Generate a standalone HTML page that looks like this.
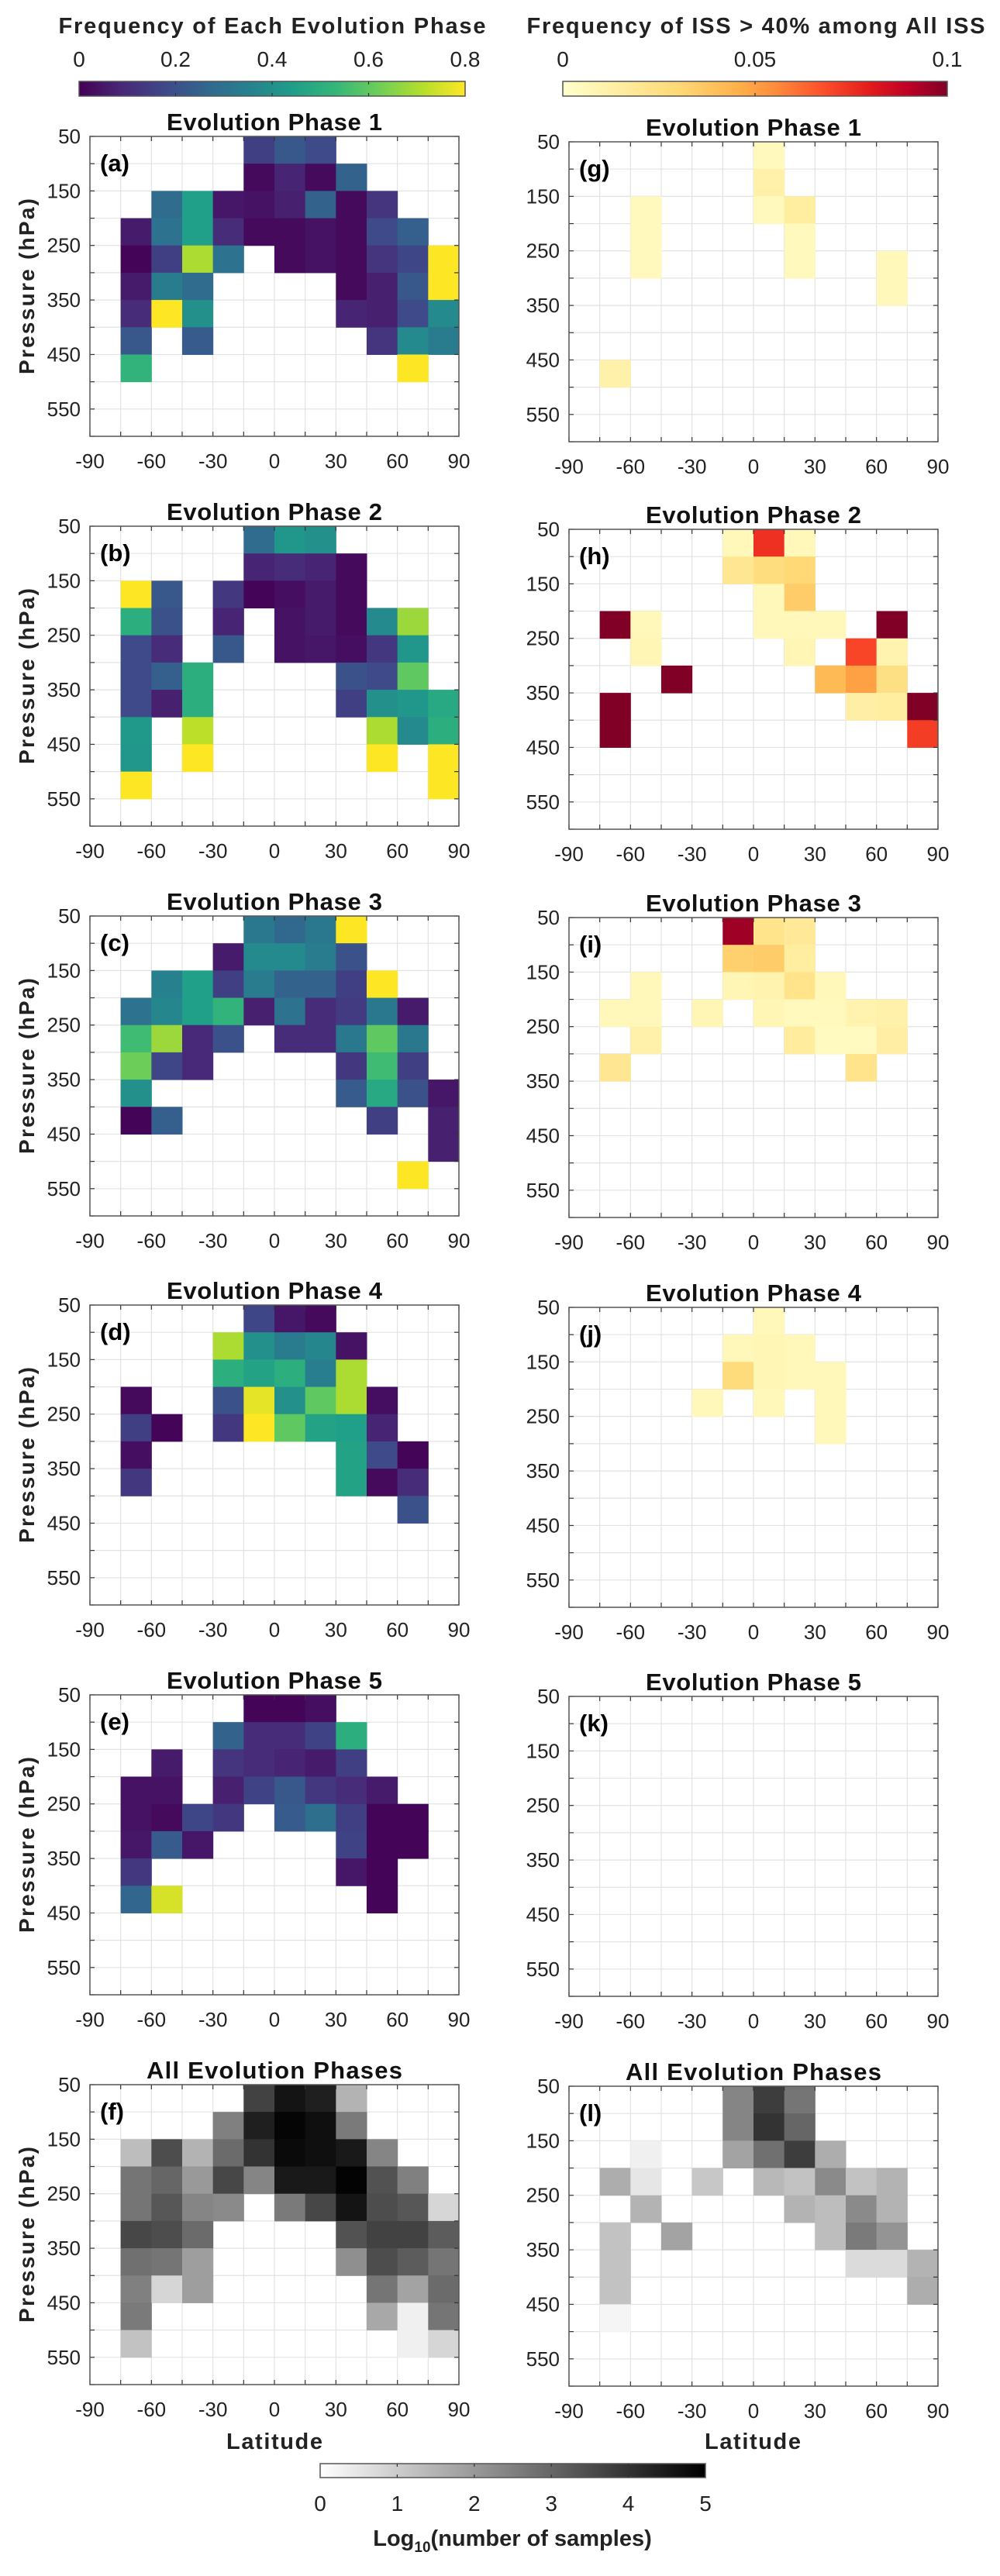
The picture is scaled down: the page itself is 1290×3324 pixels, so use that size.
<!DOCTYPE html>
<html><head><meta charset="utf-8"><style>
html,body{margin:0;padding:0;background:#fff;}
svg text{font-family:"Liberation Sans",Arial,sans-serif;fill:#222;}
</style></head>
<body>
<svg id="fig" xmlns="http://www.w3.org/2000/svg" width="1290" height="3319" viewBox="0 0 1290 3319">
<defs>
<linearGradient id="gViridis" x1="0" x2="1" y1="0" y2="0"></linearGradient>
<linearGradient id="gYlOrRd" x1="0" x2="1" y1="0" y2="0"></linearGradient>
<linearGradient id="gGray" x1="0" x2="1" y1="0" y2="0"><stop offset="0" stop-color="#fff"/><stop offset="1" stop-color="#000"/></linearGradient>
</defs>
</svg>
<script>
const _ = null;
const latTicks = [-90,-60,-30,0,30,60,90];
const presTicks = [50,150,250,350,450,550];
const freqTicks = [0,0.2,0.4,0.6,0.8];
const issTicks = [0,0.05,0.1];
const logTicks = [0,1,2,3,4,5];

const phase1Freq = [
[_,_,_,_,_,.15,.22,.18,_,_,_,_],
[_,_,_,_,_,.02,.08,.02,.25,_,_,_],
[_,_,.28,.45,.05,.04,.07,.25,.02,.12,_,_],
[_,.06,.3,.45,.1,.02,.02,.04,.02,.18,.24,_],
[_,.01,.15,.7,.3,_,.02,.04,.02,.12,.17,.8],
[_,.06,.33,.28,_,_,_,_,.02,.07,.22,.8],
[_,.1,.8,.4,_,_,_,_,.08,.07,.18,.38],
[_,.22,_,.23,_,_,_,_,_,.12,.38,.33],
[_,.52,_,_,_,_,_,_,_,_,.8,_],
[_,_,_,_,_,_,_,_,_,_,_,_],
[_,_,_,_,_,_,_,_,_,_,_,_]];
const phase2Freq = [
[_,_,_,_,_,.28,.42,.4,_,_,_,_],
[_,_,_,_,_,.08,.1,.08,.02,_,_,_],
[_,.8,.22,_,.13,.01,.03,.06,.02,_,_,_],
[_,.5,.2,_,.08,_,.04,.06,.02,.38,.68,_],
[_,.18,.1,_,.22,_,.04,.05,.03,.13,.42,_],
[_,.18,.24,.5,_,_,_,_,.2,.18,.6,_],
[_,.18,.07,.5,_,_,_,_,.15,.4,.42,.48],
[_,.43,_,.72,_,_,_,_,_,.7,.38,.5],
[_,.42,_,.8,_,_,_,_,_,.8,_,.8],
[_,.8,_,_,_,_,_,_,_,_,_,.8],
[_,_,_,_,_,_,_,_,_,_,_,_]];
const phase3Freq = [
[_,_,_,_,_,.32,.27,.32,.8,_,_,_],
[_,_,_,_,.06,.38,.38,.33,.2,_,_,_],
[_,_,.35,.45,.15,.33,.25,.25,.15,.8,_,_],
[_,.3,.37,.45,.52,.07,.3,.1,.14,.32,.06,_],
[_,.55,.68,.09,.2,_,.1,.1,.32,.6,.32,_],
[_,.62,.17,.09,_,_,_,_,.13,.55,.15,_],
[_,.4,_,_,_,_,_,_,.23,.48,.2,.05],
[_,.01,.24,_,_,_,_,_,_,.15,_,.07],
[_,_,_,_,_,_,_,_,_,_,_,.07],
[_,_,_,_,_,_,_,_,_,_,.8,_],
[_,_,_,_,_,_,_,_,_,_,_,_]];
const phase4Freq = [
[_,_,_,_,_,.17,.05,.02,_,_,_,_],
[_,_,_,_,.7,.4,.33,.37,.04,_,_,_],
[_,_,_,_,.5,.46,.5,.34,.7,_,_,_],
[_,.02,_,_,.2,.77,.4,.6,.7,.03,_,_],
[_,.15,.01,_,.13,.8,.6,.46,.45,.08,_,_],
[_,.03,_,_,_,_,_,_,.46,.18,.01,_],
[_,.13,_,_,_,_,_,_,.46,.02,.1,_],
[_,_,_,_,_,_,_,_,_,_,.2,_],
[_,_,_,_,_,_,_,_,_,_,_,_],
[_,_,_,_,_,_,_,_,_,_,_,_],
[_,_,_,_,_,_,_,_,_,_,_,_]];
const phase5Freq = [
[_,_,_,_,_,.01,.01,.03,_,_,_,_],
[_,_,_,_,.25,.1,.1,.16,.5,_,_,_],
[_,_,.06,_,.12,.1,.08,.06,.15,_,_,_],
[_,.04,.04,_,.07,.16,.22,.13,.1,.06,_,_],
[_,.04,.02,.17,.13,_,.23,.29,.15,.01,.01,_],
[_,.05,.23,.05,_,_,_,_,.16,.01,.01,_],
[_,.13,_,_,_,_,_,_,.05,.01,_,_],
[_,.26,.75,_,_,_,_,_,_,.01,_,_],
[_,_,_,_,_,_,_,_,_,_,_,_],
[_,_,_,_,_,_,_,_,_,_,_,_],
[_,_,_,_,_,_,_,_,_,_,_,_]];
const allLogSamples = [
[_,_,_,_,_,3.7,4.6,4.4,1.5,_,_,_],
[_,_,_,_,2.5,4.4,4.9,4.7,2.6,_,_,_],
[_,1.3,3.5,1.5,2.9,4.0,4.8,4.7,4.5,2.4,_,_],
[_,2.7,3.0,2.0,3.6,2.4,4.5,4.5,4.95,3.4,2.5,_],
[_,2.7,3.3,2.4,2.3,_,2.6,3.6,4.6,3.5,3.3,0.8],
[_,3.6,3.5,2.9,_,_,_,_,3.4,3.7,3.7,3.2],
[_,2.8,2.7,1.9,_,_,_,_,2.2,3.5,3.2,2.7],
[_,2.5,0.8,1.9,_,_,_,_,_,2.7,1.8,2.9],
[_,2.6,_,_,_,_,_,_,_,1.7,0.3,2.7],
[_,1.2,_,_,_,_,_,_,_,_,0.3,0.8],
[_,_,_,_,_,_,_,_,_,_,_,_]];
const iss1 = [
[_,_,_,_,_,_,.005,_,_,_,_,_],
[_,_,_,_,_,_,.012,_,_,_,_,_],
[_,_,.005,_,_,_,.005,.015,_,_,_,_],
[_,_,.005,_,_,_,_,.005,_,_,_,_],
[_,_,.005,_,_,_,_,.005,_,_,.006,_],
[_,_,_,_,_,_,_,_,_,_,.006,_],
[_,_,_,_,_,_,_,_,_,_,_,_],
[_,_,_,_,_,_,_,_,_,_,_,_],
[_,.012,_,_,_,_,_,_,_,_,_,_],
[_,_,_,_,_,_,_,_,_,_,_,_],
[_,_,_,_,_,_,_,_,_,_,_,_]];
const iss2 = [
[_,_,_,_,_,.006,.075,.006,_,_,_,_],
[_,_,_,_,_,.02,.027,.03,_,_,_,_],
[_,_,_,_,_,_,.006,.035,_,_,_,_],
[_,.1,.006,_,_,_,.006,.006,.006,_,.1,_],
[_,_,.008,_,_,_,_,.008,_,.07,.01,_],
[_,_,_,.1,_,_,_,_,.042,.05,.025,_],
[_,.1,_,_,_,_,_,_,_,.013,.015,.1],
[_,.1,_,_,_,_,_,_,_,_,_,.072],
[_,_,_,_,_,_,_,_,_,_,_,_],
[_,_,_,_,_,_,_,_,_,_,_,_],
[_,_,_,_,_,_,_,_,_,_,_,_]];
const iss3 = [
[_,_,_,_,_,.095,.022,.018,_,_,_,_],
[_,_,_,_,_,.033,.035,.015,_,_,_,_],
[_,_,.006,_,_,.008,.01,.022,.006,_,_,_],
[_,.006,.006,_,.008,_,.008,.005,.005,.01,.012,_],
[_,_,.012,_,_,_,_,.016,.004,.004,.014,_],
[_,.02,_,_,_,_,_,_,_,.022,_,_],
[_,_,_,_,_,_,_,_,_,_,_,_],
[_,_,_,_,_,_,_,_,_,_,_,_],
[_,_,_,_,_,_,_,_,_,_,_,_],
[_,_,_,_,_,_,_,_,_,_,_,_],
[_,_,_,_,_,_,_,_,_,_,_,_]];
const iss4 = [
[_,_,_,_,_,_,.006,_,_,_,_,_],
[_,_,_,_,_,.006,.008,.006,_,_,_,_],
[_,_,_,_,_,.028,.008,.006,.006,_,_,_],
[_,_,_,_,.006,_,.006,_,.006,_,_,_],
[_,_,_,_,_,_,_,_,.006,_,_,_],
[_,_,_,_,_,_,_,_,_,_,_,_],
[_,_,_,_,_,_,_,_,_,_,_,_],
[_,_,_,_,_,_,_,_,_,_,_,_],
[_,_,_,_,_,_,_,_,_,_,_,_],
[_,_,_,_,_,_,_,_,_,_,_,_],
[_,_,_,_,_,_,_,_,_,_,_,_]];
const iss5 = [
[_,_,_,_,_,_,_,_,_,_,_,_],[_,_,_,_,_,_,_,_,_,_,_,_],[_,_,_,_,_,_,_,_,_,_,_,_],
[_,_,_,_,_,_,_,_,_,_,_,_],[_,_,_,_,_,_,_,_,_,_,_,_],[_,_,_,_,_,_,_,_,_,_,_,_],
[_,_,_,_,_,_,_,_,_,_,_,_],[_,_,_,_,_,_,_,_,_,_,_,_],[_,_,_,_,_,_,_,_,_,_,_,_],
[_,_,_,_,_,_,_,_,_,_,_,_],[_,_,_,_,_,_,_,_,_,_,_,_]];
const issLogSamples = [
[_,_,_,_,_,2.4,3.8,2.7,_,_,_,_],
[_,_,_,_,_,2.4,4.0,3.0,_,_,_,_],
[_,_,0.3,_,_,1.8,2.8,3.8,1.6,_,_,_],
[_,1.6,0.5,_,1.1,_,1.4,1.2,2.3,1.2,1.5,_],
[_,_,1.5,_,_,_,_,1.5,1.3,2.3,1.5,_],
[_,1.2,_,1.8,_,_,_,_,1.3,2.6,2.1,_],
[_,1.2,_,_,_,_,_,_,_,0.7,0.7,1.5],
[_,1.2,_,_,_,_,_,_,_,_,_,1.6],
[_,0.2,_,_,_,_,_,_,_,_,_,_],
[_,_,_,_,_,_,_,_,_,_,_,_],
[_,_,_,_,_,_,_,_,_,_,_,_]];

const NS = "http://www.w3.org/2000/svg";
const svg = document.getElementById('fig');
function el(tag, attrs, parent){const e=document.createElementNS(NS,tag);for(const k in attrs)e.setAttribute(k,attrs[k]);(parent||svg).appendChild(e);return e;}
function lerpStops(stops,t){t=Math.max(0,Math.min(1,t));for(let i=1;i<stops.length;i++){if(t<=stops[i][0]){const a=stops[i-1],b=stops[i];const u=(t-a[0])/(b[0]-a[0]||1);return 'rgb('+[1,2,3].map(j=>Math.round(a[j]+(b[j]-a[j])*u)).join(',')+')';}}const l=stops[stops.length-1];return 'rgb('+l[1]+','+l[2]+','+l[3]+')';}
const vir=[[0,68,1,84],[1/9,72,40,120],[2/9,62,73,137],[3/9,49,104,142],[4/9,38,130,142],[5/9,31,158,137],[6/9,53,183,121],[7/9,110,206,88],[8/9,181,222,43],[1,253,231,37]];
const ylo=[[0,255,255,204],[.15,255,237,160],[.3,254,217,118],[.45,254,178,76],[.55,253,141,60],[.68,252,78,42],[.8,227,26,28],[.9,189,0,38],[1,128,0,38]];
const cmapFreq=v=>lerpStops(vir,v/0.8);
const cmapIss=v=>lerpStops(ylo,v/0.1);
const cmapGray=v=>{const g=Math.round(255*(1-v/5));return 'rgb('+g+','+g+','+g+')';};
function fillGrad(id,stops){const g=document.getElementById(id);stops.forEach(s=>el('stop',{offset:s[0],'stop-color':'rgb('+s[1]+','+s[2]+','+s[3]+')'},g));}
fillGrad('gViridis',vir);fillGrad('gYlOrRd',ylo);

const W=476,H=387;
function panel(x0,y0,grid,cmap,title,letter,showYLabel,name){
  const g=el('g',{});
  
  
  const xs=lat=>x0+(lat+90)/180*W;
  const ys=p=>y0+(p-50)/550*H;
  el('rect',{x:x0,y:y0,width:W,height:H,fill:'#fff'},g);
  for(let i=1;i<12;i++){const x=xs(-90+15*i);el('line',{x1:x,x2:x,y1:y0,y2:y0+H,stroke:'#e3e3e3','stroke-width':1.2},g);}
  for(let j=1;j<11;j++){const y=ys(50+50*j);el('line',{x1:x0,x2:x0+W,y1:y,y2:y,stroke:'#e3e3e3','stroke-width':1.2},g);}
  grid.forEach((row,r)=>row.forEach((v,c)=>{if(v===null)return;
    const lat=-90+15*c,p=50+50*r;const x1=xs(lat),x2=xs(lat+15),y1=ys(p),y2=ys(p+50);
    const cell=el('rect',{x:x1,y:y1,width:x2-x1+0.5,height:y2-y1+0.5,fill:cmap(v)},g);
    
    
  }));
  for(let i=0;i<=12;i++){const x=xs(-90+15*i);el('line',{x1:x,x2:x,y1:y0+H,y2:y0+H-6,stroke:'#333','stroke-width':1.2},g);el('line',{x1:x,x2:x,y1:y0,y2:y0+6,stroke:'#333','stroke-width':1.2},g);}
  for(let j=0;j<=11;j++){const y=ys(50+50*j);el('line',{x1:x0,x2:x0+6,y1:y,y2:y,stroke:'#333','stroke-width':1.2},g);el('line',{x1:x0+W,x2:x0+W-6,y1:y,y2:y,stroke:'#333','stroke-width':1.2},g);}
  el('rect',{x:x0,y:y0,width:W,height:H,fill:'none',stroke:'#555','stroke-width':1.5},g);
  latTicks.forEach(t=>{const tx=el('text',{x:xs(t),y:y0+H+41,'font-size':26,'text-anchor':'middle'},g);tx.textContent=t;
    
    });
  presTicks.forEach(t=>{const tx=el('text',{x:x0-12,y:ys(t)+9,'font-size':26,'text-anchor':'end'},g);tx.textContent=t;
    
    });
  const tt=el('text',{x:x0+W/2,y:y0-8,'font-size':31,'font-weight':'bold','text-anchor':'middle',textLength:title.length>18?330:278,style:'fill:#111'},g);tt.textContent=title;
  
  
  const lt=el('text',{x:x0+13,y:y0+45,'font-size':31,'font-weight':'bold',style:'fill:#000'},g);lt.textContent='('+letter+')';
  
  
  if(showYLabel){const cy=y0+H/2;const yl=el('text',{x:0,y:0,'font-size':28,'font-weight':'bold','text-anchor':'middle',textLength:227,transform:'translate(44,'+cy+') rotate(-90)',style:'fill:#222'},g);yl.textContent='Pressure (hPa)';
    
    }
}
const LX=116, RX=734;
const lTops=[176,679,1182,1684,2187,2690];
const rTops=[183,683,1184,1687,2189,2692];
const leftGrids=[phase1Freq,phase2Freq,phase3Freq,phase4Freq,phase5Freq,allLogSamples];
const rightGrids=[iss1,iss2,iss3,iss4,iss5,issLogSamples];
const titles=['Evolution Phase 1','Evolution Phase 2','Evolution Phase 3','Evolution Phase 4','Evolution Phase 5','All Evolution Phases'];
const lLet=['a','b','c','d','e','f'], rLet=['g','h','i','j','k','l'];
for(let i=0;i<6;i++){
  panel(LX,lTops[i],leftGrids[i],i<5?cmapFreq:cmapGray,titles[i],lLet[i],true,'panel-'+lLet[i]);
  panel(RX,rTops[i],rightGrids[i],i<5?cmapIss:cmapGray,titles[i],rLet[i],false,'panel-'+rLet[i]);
}
function colorbar(x0,x1,y0,y1,grad,ticks,maxv,labelY,name,labelFmt){
  const g=el('g',{});
  
  
  el('rect',{x:x0,y:y0,width:x1-x0,height:y1-y0,fill:'url(#'+grad+')',stroke:'#555','stroke-width':1.5},g);
  ticks.forEach(t=>{const x=x0+(t/maxv)*(x1-x0);
    if(t>0&&t<maxv){el('line',{x1:x,x2:x,y1:y0,y2:y0+4,stroke:'#333','stroke-width':1.2},g);el('line',{x1:x,x2:x,y1:y1,y2:y1-4,stroke:'#333','stroke-width':1.2},g);}
    const tx=el('text',{x:x,y:labelY,'font-size':28,'text-anchor':'middle'},g);tx.textContent=labelFmt(t);
    
    });
}
colorbar(102,600,105,124,'gViridis',freqTicks,0.8,86,'frequency-colorbar',t=>String(t));
colorbar(726,1222,105,124,'gYlOrRd',issTicks,0.1,86,'iss-colorbar',t=>String(t));
colorbar(413,910,3179,3197,'gGray',logTicks,5,3240,'samples-colorbar',t=>String(t));
function label(x,y,txt,name,len){const t=el('text',{x:x,y:y,'font-size':29,'font-weight':'bold','text-anchor':'middle',style:'fill:#222'});if(len)t.setAttribute('textLength',len);t.textContent=txt;
  
  return t;}
label(351,43,'Frequency of Each Evolution Phase','frequency-colorbar-title',551);
label(975,43,'Frequency of ISS > 40% among All ISS','iss-colorbar-title',591);
label(354,3160,'Latitude','x-axis-title-left',124);
label(971,3160,'Latitude','x-axis-title-right',124);
const lg=el('text',{x:661,y:3285,'font-size':29,'font-weight':'bold','text-anchor':'middle',style:'fill:#222'});


lg.innerHTML='Log<tspan font-size="19" dy="8">10</tspan><tspan dy="-8">(number of samples)</tspan>';
</script>
</body></html>
